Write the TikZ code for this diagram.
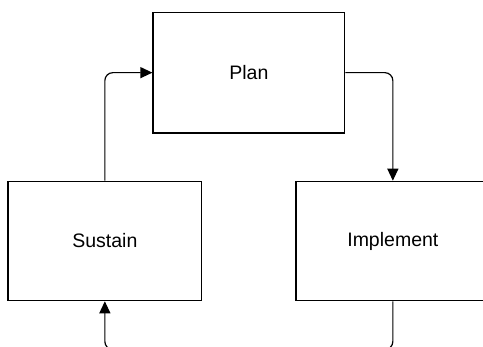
\documentclass[tikz,border=0pt]{standalone}
\usepackage{fontspec}
\setmainfont{Liberation Sans}
\usetikzlibrary{arrows.meta}
\tikzset{
  box/.style={draw=black, line width=1.2pt, fill=white, inner sep=0pt,
    font=\fontsize{19.5}{23}\selectfont},
  conn/.style={draw=black, line width=1.2pt, rounded corners=8pt},
  tip/.style={-{Triangle[length=12pt,width=11pt]}}
}
\begin{document}
\begin{tikzpicture}[x=1pt,y=-1pt]
\useasboundingbox (0,0) rectangle (483,347);
\clip (0,0) rectangle (483,347);
\fill[white] (0,0) rectangle (483,347);
\node[box, minimum width=191.7pt, minimum height=120.7pt] (plan) at (248.85,72.65) {Plan};
\node[box, minimum width=193.7pt, minimum height=119.4pt] (sustain) at (104.85,241) {Sustain};
\node[box, minimum width=193.7pt, minimum height=119.4pt] (implement) at (392.85,241) {Implement};
\coordinate (b) at (0,349.5);
\draw[conn, tip] (sustain.north) |- (plan.west);
\draw[conn, tip] (plan.east) -| (implement.north);
\draw[conn, tip] (implement.south) -- (implement.south |- b) -- (sustain.south |- b) -- (sustain.south);
\end{tikzpicture}
\end{document}
